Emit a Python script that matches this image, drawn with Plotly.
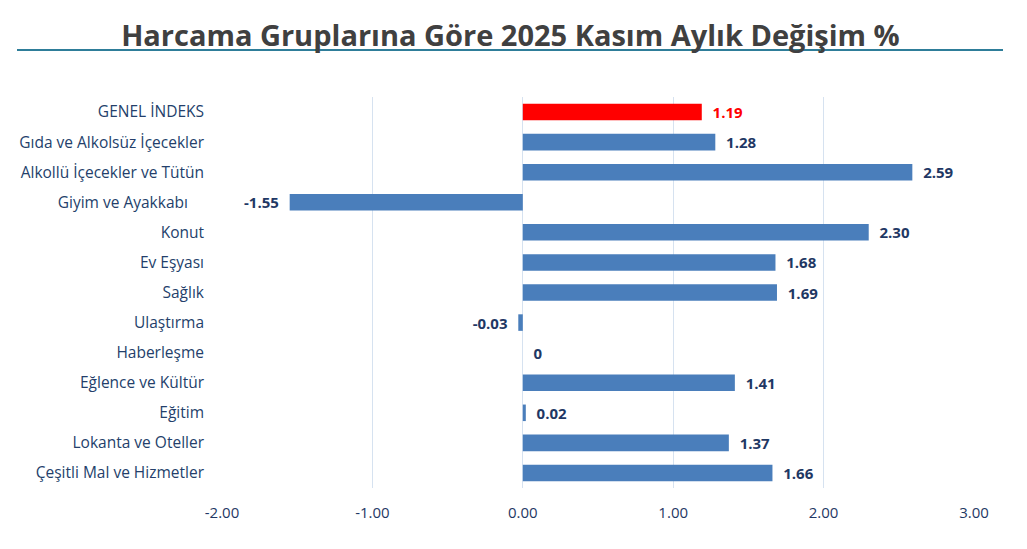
import plotly.graph_objects as go

categories = ["GENEL İNDEKS", "Gıda ve Alkolsüz İçecekler", "Alkollü İçecekler ve Tütün",
              "Giyim ve Ayakkabı\u00a0\u00a0\u00a0\u00a0", "Konut", "Ev Eşyası", "Sağlık", "Ulaştırma",
              "Haberleşme", "Eğlence ve Kültür", "Eğitim", "Lokanta ve Oteller",
              "Çeşitli Mal ve Hizmetler"]
values = [1.19, 1.28, 2.59, -1.55, 2.30, 1.68, 1.69, -0.03, 0, 1.41, 0.02, 1.37, 1.66]
labels = ["1.19", "1.28", "2.59", "-1.55", "2.30", "1.68", "1.69", "-0.03", "0", "1.41", "0.02", "1.37", "1.66"]
tick_vals = [-2, -1, 0, 1, 2, 3]
tick_text = ["-2.00", "-1.00", "0.00", "1.00", "2.00", "3.00"]

bar_colors = ["#FF0000"] + ["#4A7EBB"] * (len(values) - 1)
text_colors = ["#FF0000"] + ["#1F3864"] * (len(values) - 1)
pad = "\u00a0\u00a0"
shown = [(lab + pad) if v < 0 else (pad + lab) for v, lab in zip(values, labels)]

fig = go.Figure(go.Bar(
    x=values, y=categories, orientation="h",
    marker=dict(color=bar_colors, line=dict(width=0)),
    width=0.55,
    text=shown, textposition="outside", cliponaxis=False, constraintext="none",
    textfont=dict(family="Open Sans", size=15, color=text_colors, weight="bold"),
))

fig.update_layout(
    width=1027, height=549,
    margin=dict(l=222, r=53, t=97, b=61),
    paper_bgcolor="white", plot_bgcolor="white",
    showlegend=False,
    title=dict(text="<b>Harcama Gruplarına Göre 2025 Kasım Aylık Değişim %</b>",
               x=0.497, xref="container", xanchor="center", y=1 - 36 / 549, yref="container",
               yanchor="middle",
               font=dict(family="Open Sans", size=29, color="#404040")),
    xaxis=dict(range=[-2, 3], tickvals=tick_vals, ticktext=tick_text,
               showgrid=True, gridcolor="#D6E2F0", gridwidth=1, zeroline=False,
               showline=False, ticks="", ticklabelstandoff=14,
               tickfont=dict(family="Open Sans", size=15, color="#1F3864")),
    yaxis=dict(autorange="reversed", showgrid=False, ticks="", ticklen=0,
               tickfont=dict(family="Open Sans", size=15.5, color="#243F6B"),
               ticklabelstandoff=17),
    bargap=0.45,
    shapes=[dict(type="line", xref="paper", yref="paper",
                 x0=(17 - 222) / 752, x1=(1003 - 222) / 752,
                 y0=(549 - 61 - 50) / 391, y1=(549 - 61 - 50) / 391,
                 line=dict(color="#2E7D99", width=2))],
)

fig.write_html("out.html", config={"displayModeBar": False},
               post_script="document.body.style.margin='0';window.dispatchEvent(new Event('resize'));")
